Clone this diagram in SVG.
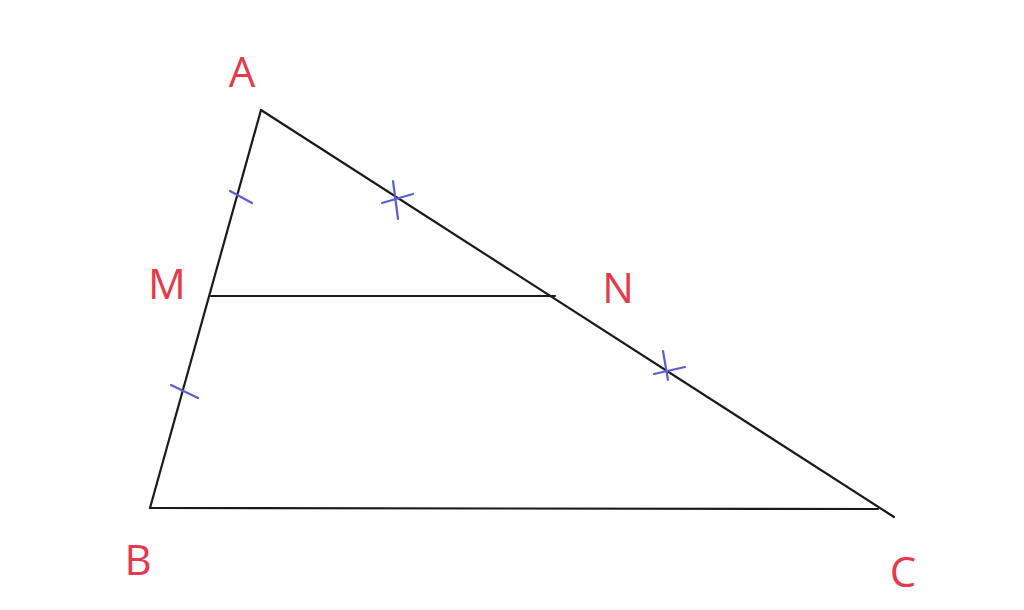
<svg xmlns="http://www.w3.org/2000/svg" width="1024" height="610" viewBox="0 0 1024 610">
<style>
.edge{stroke:#1a1a1a;stroke-width:2.2;fill:none;stroke-linecap:round;stroke-linejoin:round}
.tick{stroke:#5a5fd0;stroke-width:2.2;fill:none;stroke-linecap:round}
.lbl{font-family:"Open Sans","Liberation Sans",sans-serif;font-size:42px;fill:#e53a4b;text-anchor:middle}
</style>
<rect width="1024" height="610" fill="#ffffff"/>
<g id="connectors">
<line class="edge" x1="261" y1="110" x2="150" y2="508"/>
<line class="edge" x1="261" y1="110" x2="894" y2="517"/>
<line class="edge" x1="150" y1="508" x2="878" y2="509"/>
<line class="edge" x1="211" y1="296" x2="555" y2="296"/>
</g>
<g id="ticks">
<line class="tick" x1="230" y1="191" x2="252" y2="203"/>
<line class="tick" x1="171" y1="385" x2="198" y2="398"/>
<line class="tick" x1="393" y1="181" x2="398" y2="219"/>
<line class="tick" x1="382" y1="203" x2="413" y2="194"/>
<line class="tick" x1="663" y1="351" x2="668" y2="380"/>
<line class="tick" x1="654" y1="374" x2="685" y2="367"/>
</g>
<g id="node-A"><text class="lbl" x="242" y="87">A</text></g>
<g id="node-M"><text class="lbl" x="167" y="299">M</text></g>
<g id="node-N"><text class="lbl" x="618" y="303">N</text></g>
<g id="node-B"><text class="lbl" x="138" y="575">B</text></g>
<g id="node-C"><text class="lbl" x="903" y="587">C</text></g>
</svg>
